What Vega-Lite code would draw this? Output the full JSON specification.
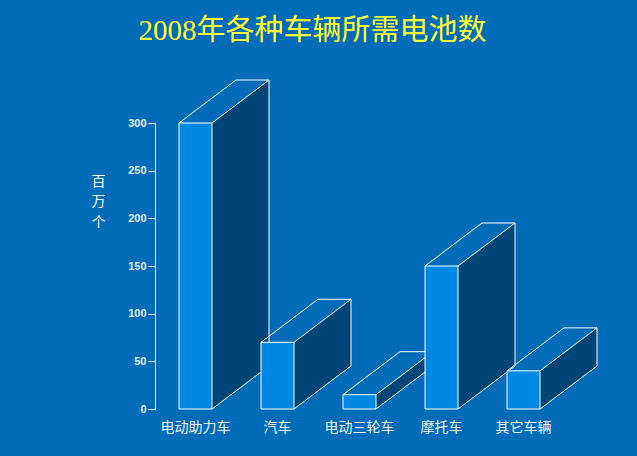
{
  "$schema": "https://vega.github.io/schema/vega-lite/v6.json",
  "width": 409,
  "height": 286,
  "autosize": "none",
  "padding": {"left": 155, "top": 123, "right": 73, "bottom": 47},
  "background": "#006cb7",
  "title": {
    "text": "2008年各种车辆所需电池数",
    "color": "#ffff33",
    "fontSize": 29,
    "font": "Liberation Serif, Noto Sans CJK SC",
    "fontWeight": "normal",
    "anchor": "middle",
    "frame": "group",
    "dx": -47,
    "dy": -24,
    "offset": 10
  },
  "data": {
    "values": [
      {"车辆": "电动助力车", "电池": 300},
      {"车辆": "汽车", "电池": 70},
      {"车辆": "电动三轮车", "电池": 15},
      {"车辆": "摩托车", "电池": 150},
      {"车辆": "其它车辆", "电池": 40}
    ]
  },
  "encoding": {
    "x": {
      "field": "车辆",
      "type": "nominal",
      "sort": null,
      "scale": {"paddingInner": 0.5976, "paddingOuter": 0.2927},
      "axis": {
        "title": null,
        "domain": false,
        "ticks": false,
        "labelAngle": 0,
        "labelFont": "Noto Sans CJK SC",
        "labelFontSize": 14,
        "labelColor": "#eef4fa",
        "labelPadding": 11
      }
    },
    "y": {
      "field": "电池",
      "type": "quantitative",
      "scale": {"domain": [0, 300], "nice": false},
      "axis": {
        "values": [0, 50, 100, 150, 200, 250, 300],
        "grid": false,
        "domainColor": "#ffffff",
        "tickColor": "#ffffff",
        "tickSize": 7,
        "labelFont": "Liberation Sans",
        "labelFontWeight": "bold",
        "labelFontSize": 11,
        "labelColor": "#e6eef8",
        "labelPadding": 2,
        "title": ["百", "万", "个"],
        "titleAngle": 0,
        "titleFont": "Noto Sans CJK SC",
        "titleFontSize": 14,
        "titleFontWeight": "normal",
        "titleColor": "#ffffff",
        "titleAlign": "center",
        "titleBaseline": "top",
        "titleLineHeight": 20.5,
        "titleX": -57,
        "titleY": 51
      }
    }
  },
  "layer": [
    {
      "mark": {
        "type": "bar",
        "width": 57,
        "xOffset": 45,
        "yOffset": -43,
        "fill": {
          "gradient": "linear",
          "x1": 0, "y1": 0, "x2": 1, "y2": 1,
          "stops": [
            {"offset": 0, "color": "rgba(0,69,120,0)"},
            {"offset": 0.5, "color": "rgba(0,69,120,0)"},
            {"offset": 0.5, "color": "#004578"},
            {"offset": 1, "color": "#004578"}
          ]
        }
      },
      "encoding": {"y2": {"field": "电池"}}
    },
    {
      "mark": {"type": "bar", "width": 57, "xOffset": 45, "yOffset": -1, "fill": "#004578"},
      "encoding": {}
    },
    {
      "mark": {
        "type": "bar",
        "width": 57,
        "xOffset": 45,
        "yOffset": -43,
        "fill": {
          "gradient": "linear",
          "x1": 0, "y1": 0, "x2": 1, "y2": 1,
          "stops": [
            {"offset": 0, "color": "rgba(0,108,183,0)"},
            {"offset": 0.5, "color": "rgba(0,108,183,0)"},
            {"offset": 0.5, "color": "#006cb7"},
            {"offset": 1, "color": "#006cb7"}
          ]
        }
      },
      "encoding": {"y": {"datum": 0}, "y2": {"datum": 0}}
    },
    {
      "mark": {"type": "rule", "color": "#ffffff", "strokeWidth": 1, "xOffset": -16.5, "x2Offset": 40.5, "y2Offset": -43},
      "encoding": {"x2": {"field": "车辆"}, "y2": {"field": "电池"}}
    },
    {
      "mark": {"type": "rule", "color": "#ffffff", "strokeWidth": 1, "xOffset": 40.5, "x2Offset": 73.5, "yOffset": -43, "y2Offset": -43},
      "encoding": {"x2": {"field": "车辆"}, "y2": {"field": "电池"}}
    },
    {
      "mark": {"type": "rule", "color": "#ffffff", "strokeWidth": 1, "xOffset": 16.5, "x2Offset": 73.5, "y2Offset": -43},
      "encoding": {"x2": {"field": "车辆"}, "y2": {"field": "电池"}}
    },
    {
      "mark": {"type": "rule", "color": "#ffffff", "strokeWidth": 1, "xOffset": 73.5, "x2Offset": 73.5, "yOffset": -43, "y2Offset": -43},
      "encoding": {"x2": {"field": "车辆"}, "y2": {"datum": 0}}
    },
    {
      "mark": {"type": "rule", "color": "#ffffff", "strokeWidth": 1, "xOffset": 16.5, "x2Offset": 73.5, "y2Offset": -43},
      "encoding": {"x2": {"field": "车辆"}, "y": {"datum": 0}, "y2": {"datum": 0}}
    },
    {
      "mark": {"type": "bar", "fill": "#0088e2", "stroke": "#ffffff", "strokeWidth": 1},
      "encoding": {}
    }
  ],
  "config": {"view": {"stroke": null}}
}
